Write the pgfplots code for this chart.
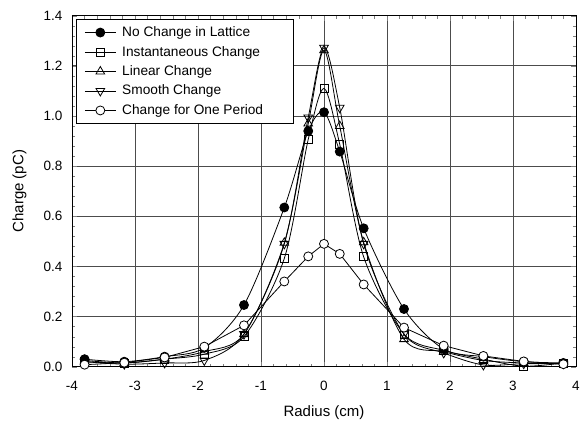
\documentclass[border=0pt]{standalone}
\usepackage{fontspec}
\setmainfont{Liberation Sans}
\usepackage{pgfplots}
\pgfplotsset{compat=1.18}

\begin{document}
\fontsize{13}{15}\selectfont
\begin{tikzpicture}[x=1pt,y=1pt]
\useasboundingbox (-72,-54.3) rectangle (512,366.7);
\begin{axis}[
    scale only axis,
    width=504pt, height=351pt,
    xmin=-4, xmax=4, ymin=0, ymax=1.4,
    xtick={-4,-3,...,4},
    ytick={0,0.2,...,1.4},
    minor x tick num=4,
    minor y tick num=4,
    tick align=inside,
    major tick length=5pt, minor tick length=3pt,
    grid=major,
    major grid style={gray!60!black, line width=0.7pt},
    axis line style={line width=0.9pt},
    yticklabel style={/pgf/number format/fixed, /pgf/number format/fixed zerofill, /pgf/number format/precision=1, xshift=-5pt},
    xticklabel style={yshift=-10pt},
    ticklabel style={font=\fontsize{13.5}{15}\selectfont},
    /pgf/number format/assume math mode=true,
    xlabel={Radius (cm)}, ylabel={Charge (pC)},
    every axis x label/.style={at={(axis description cs:0.5,0)}, anchor=base, yshift=-50pt, font=\fontsize{15}{17}\selectfont},
    every axis y label/.style={at={(axis description cs:0,0.5)}, anchor=south, rotate=90, yshift=41pt, font=\fontsize{15}{17}\selectfont},
    legend style={at={(axis description cs:0.008,0.99)}, anchor=north west, draw=black, line width=0.8pt,
        row sep=3.6pt, inner xsep=8pt, inner ysep=5pt, font=\fontsize{13.7}{15}\selectfont,
        nodes={inner xsep=6pt}},
    legend cell align=left,
    legend image code/.code={\draw[mark repeat=2,mark phase=2] plot coordinates {(0pt,0pt) (15.5pt,0pt) (31pt,0pt)};},
    every axis plot/.append style={black, line width=0.8pt},
]
% No Change in Lattice
\addplot[smooth, mark=*, mark size=4.5pt, mark options={fill=black}] coordinates {
 (-3.8,0.03) (-3.17,0.02) (-2.53,0.04) (-1.9,0.075) (-1.27,0.246) (-0.63,0.635) (-0.25,0.94) (0,1.015)
 (0.25,0.858) (0.63,0.552) (1.27,0.23) (1.9,0.07) (2.53,0.04) (3.17,0.02) (3.8,0.015)};
\addlegendentry{No Change in Lattice}
% Instantaneous Change
\addplot[smooth, mark=square, mark size=4pt, mark options={fill=white}] coordinates {
 (-3.8,0.02) (-3.17,0.015) (-2.53,0.03) (-1.9,0.05) (-1.27,0.12) (-0.63,0.432) (-0.25,0.907) (0,1.11)
 (0.25,0.887) (0.63,0.438) (1.27,0.13) (1.9,0.065) (2.53,0.03) (3.17,0.002) (3.8,0.015)};
\addlegendentry{Instantaneous Change}
% Linear Change
\addplot[smooth, mark=triangle, mark size=5pt, mark options={fill=white}] coordinates {
 (-3.8,0.025) (-3.17,0.015) (-2.53,0.03) (-1.9,0.06) (-1.27,0.13) (-0.63,0.494) (-0.25,0.97) (0,1.262)
 (0.25,0.96) (0.63,0.496) (1.27,0.11) (1.9,0.06) (2.53,0.025) (3.17,0.015) (3.8,0.012)};
\addlegendentry{Linear Change}
% Smooth Change
\addplot[smooth, mark=triangle, mark size=5pt, mark options={fill=white, rotate=180}] coordinates {
 (-3.8,0.02) (-3.17,0.01) (-2.53,0.015) (-1.9,0.025) (-1.27,0.13) (-0.63,0.49) (-0.25,0.994) (0,1.272)
 (0.25,1.033) (0.63,0.49) (1.27,0.13) (1.9,0.055) (2.53,0.007) (3.17,0.012) (3.8,0.012)};
\addlegendentry{Smooth Change}
% Change for One Period
\addplot[mark=*, mark size=4.5pt, mark options={fill=white}] coordinates {
 (-3.8,0.008) (-3.17,0.016) (-2.53,0.037) (-1.9,0.08) (-1.27,0.165) (-0.63,0.34) (-0.25,0.44) (0,0.49)
 (0.25,0.45) (0.63,0.328) (1.27,0.156) (1.9,0.084) (2.53,0.043) (3.17,0.021) (3.8,0.01)};
\addlegendentry{Change for One Period\hspace*{16pt}}
\end{axis}
\end{tikzpicture}
\end{document}
